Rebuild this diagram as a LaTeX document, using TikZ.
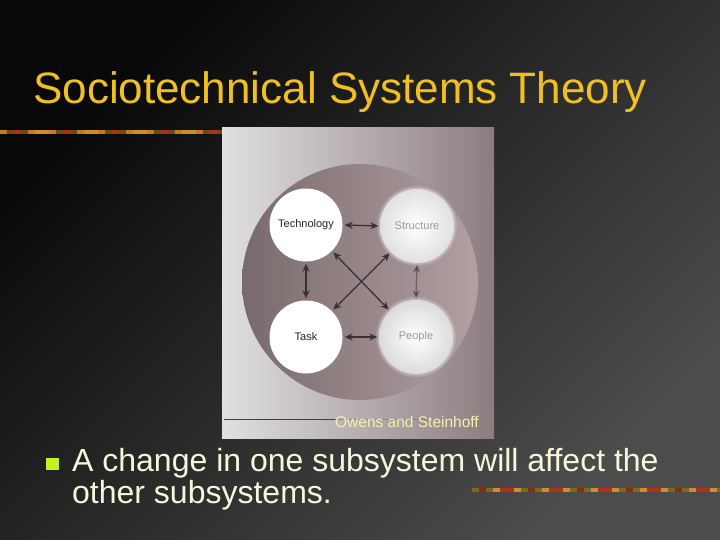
\documentclass[tikz,border=0pt]{standalone}
\usepackage{fontspec}
\setmainfont{Liberation Sans}
\usetikzlibrary{arrows.meta}
\definecolor{titlecol}{HTML}{F0C020}
\definecolor{bodycol}{HTML}{F8F6DA}
\definecolor{capcol}{HTML}{F2F2A8}
\definecolor{bulletcol}{HTML}{C8F020}
\definecolor{arrowcol}{HTML}{3A3032}
\definecolor{dl0}{HTML}{C8781E}
\definecolor{dl1}{HTML}{8A2A14}
\definecolor{dl2}{HTML}{7A6A20}
\definecolor{dl3}{HTML}{B03018}
\definecolor{dl4}{HTML}{6A4A1A}
\definecolor{dl5}{HTML}{C89030}
\definecolor{dl6}{HTML}{5A6A2A}
\tikzset{
  subsys/.style={circle, minimum size=73pt, inner sep=0pt, font=\fontsize{11}{13}\selectfont},
  link/.style={arrowcol, line width=1.3pt, {Stealth[length=8pt,width=7pt]}-{Stealth[length=8pt,width=7pt]}, shorten <=2pt, shorten >=2pt},
}
\begin{document}
\begin{tikzpicture}[x=1pt,y=-1pt]
\useasboundingbox (0,0) rectangle (720,540);
% background
\shade[top color=black!97, bottom color=black!70, shading angle=45] (0,0) rectangle (720,540);
% title
\node[anchor=base west, inner sep=0pt, text=titlecol, font=\fontsize{44}{50}\selectfont] (title) at (33,104) {Sociotechnical Systems Theory};
% decorative lines
\foreach \i in {0,...,31} {
  \pgfmathtruncatemacro{\idx}{mod(\i*3+\i*\i,7)}
  \fill[dl\idx] (\i*7,130) rectangle ({min(\i*7+7,222)},134.5);
}
\foreach \i in {0,...,35} {
  \pgfmathtruncatemacro{\idx}{mod(\i*5+\i*\i+2,7)}
  \fill[dl\idx] ({472+\i*7},487.5) rectangle ({min(472+\i*7+7,720)},492);
}
% photo
\shade[left color=black!12, middle color=black!6, right color={rgb,255:red,140;green,124;blue,128}] (222,128) rectangle (494,438);
\draw[black!75, line width=0.8pt] (224,419) -- (335,419);
\draw[black!45, line width=0.5pt] (335,419) -- (470,419);
% big circle
\shade[left color={rgb,255:red,120;green,106;blue,108}, right color={rgb,255:red,178;green,160;blue,163}] (360,282) circle (118);
% soft halos for the blurred circles
\foreach \x/\y in {417/226,416/337} {
  \fill[white, opacity=0.15] (\x,\y) circle (40);
  \fill[white, opacity=0.2] (\x,\y) circle (38.5);
}
\shade[inner color=white, outer color=black!12] (417,226) circle (37);
\shade[inner color=white, outer color=black!14] (416,337) circle (37);
\node[subsys, fill=white, text=black!85] (tech) at (306,225) {Technology};
\node[subsys, text=black!40] (struct) at (417,226) {Structure};
\node[subsys, fill=white, text=black!85] (task) at (306,337) {Task};
\node[subsys, text=black!40] (people) at (416,337) {People};
% connectors
\draw[link] (tech.east) -- (struct.west);
\draw[link] (task.east) -- (people.west);
\draw[link] (tech.south) -- (task.north);
\draw[link, opacity=0.5] (struct.south) -- (people.north);
\draw[link] (tech.-45) -- (people.135);
\draw[link] (struct.-135) -- (task.45);
% caption
\node[anchor=base east, inner sep=0pt, text=capcol, font=\fontsize{15.5}{18}\selectfont] (cap) at (479,427) {Owens and Steinhoff};
% bullet
\fill[bulletcol] (46,458) rectangle (59,470);
\node[anchor=base west, inner sep=0pt, text=bodycol, font=\fontsize{32}{34}\selectfont] (body) at (72,471) {A change in one subsystem will affect the};
\node[anchor=base west, inner sep=0pt, text=bodycol, font=\fontsize{32}{34}\selectfont] (body2) at (72,503) {other subsystems.};
\end{tikzpicture}
\end{document}
